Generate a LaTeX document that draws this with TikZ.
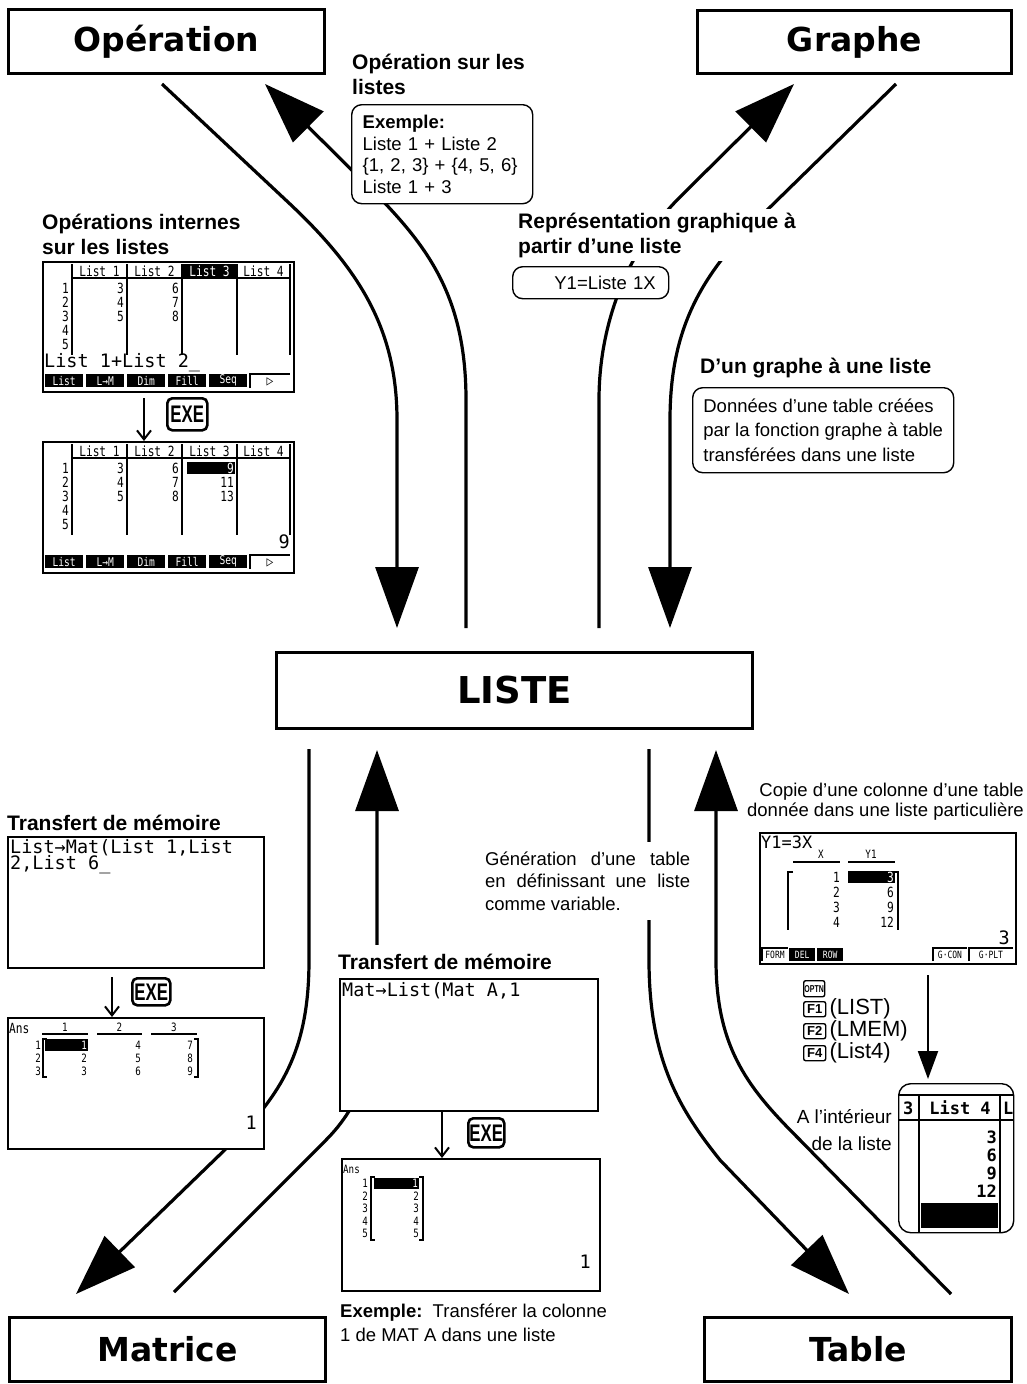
\documentclass[tikz,border=0pt]{standalone}
\usepackage{fontspec}
\setmainfont{Liberation Sans}
\newfontface\heavyfont{DejaVu Sans Bold}
\newfontfamily\lcdfont{DejaVu Sans Mono}
\newfontface\lcdsmall{DejaVu Sans Mono}[FakeStretch=0.8]
\newfontface\keyfont{Liberation Sans Bold}[FakeStretch=0.7]
\usetikzlibrary{arrows.meta,positioning}

\tikzset{
  titlebox/.style={draw, line width=3pt, anchor=north west, inner sep=0pt,
    font=\heavyfont\fontsize{33}{36}\selectfont},
  head/.style={font=\bfseries\fontsize{21}{25}\selectfont, align=left, inner sep=0pt, anchor=west},
  body/.style={font=\fontsize{18.5}{21.5}\selectfont, inner sep=0pt},
  notebox/.style={draw, line width=1.4pt, rounded corners=10pt, fill=white, anchor=north west,
    font=\fontsize{18.5}{21.5}\selectfont, align=left},
  screen/.style={draw, line width=2.2pt, fill=white, anchor=north west, inner sep=0pt},
  lcd/.style={font=\lcdfont\fontsize{18.5}{17}\selectfont, inner sep=0pt, anchor=west},
  lcds/.style={font=\lcdsmall\fontsize{14}{14}\selectfont, inner sep=0pt},
  tiny/.style={font=\lcdsmall\fontsize{11.5}{11.5}\selectfont, inner sep=0pt},
  fkey/.style={fill=black, text=white, font=\lcdsmall\fontsize{12}{12}\selectfont, inner sep=0pt,
    minimum width=38pt, minimum height=13pt, anchor=north west},
  grid/.style={line width=1.5pt},
  flow/.style={line width=3.2pt},
  bigtip/.style={-{Triangle[length=61pt,width=43pt]}},
  exekey/.style={draw, line width=2.6pt, rounded corners=5pt, inner sep=0pt, anchor=north west,
    font=\keyfont\fontsize{24}{24}\selectfont},
  fnkey/.style={draw, line width=1.4pt, rounded corners=2pt, inner sep=0pt, anchor=north west,
    font=\bfseries\fontsize{13}{13}\selectfont, minimum width=22pt, minimum height=15pt},
  pressarrow/.style={line width=2pt, -{Straight Barb[length=9pt,width=14pt]}}
}

\begin{document}
\begin{tikzpicture}[x=1pt, y=-1pt]
  \useasboundingbox (0,0) rectangle (1026,1384);

  % Boxes
  \node[titlebox, minimum width=316pt, minimum height=64pt] (operation) at (7,8) {Opération};
  \node[titlebox, minimum width=314pt, minimum height=63pt] (graphe) at (696,9) {Graphe};
  \node[titlebox, minimum width=476pt, minimum height=76pt, font=\heavyfont\fontsize{37}{40}\selectfont] (liste) at (275,651) {LISTE};
  \node[titlebox, minimum width=316pt, minimum height=64pt] (matrice) at (8,1316) {Matrice};
  \node[titlebox, minimum width=307pt, minimum height=64pt] (table) at (703,1316) {Table};

  % Ends of the flows
  \coordinate (opOut) at (162,84);
  \coordinate (opIn) at (265,84);
  \coordinate (grIn) at (794,84);
  \coordinate (grOut) at (896,84);
  \coordinate (listeInA) at (397,628);
  \coordinate (listeOutA) at (466,628);
  \coordinate (listeOutB) at (599,628);
  \coordinate (listeInB) at (670,628);
  \coordinate (listeOutC) at (309,749);
  \coordinate (listeInC) at (377,750);
  \coordinate (listeOutD) at (649,749);
  \coordinate (listeInD) at (716,750);
  \coordinate (maIn) at (76,1294);
  \coordinate (maOut) at (174,1292);
  \coordinate (tbIn) at (849,1294);
  \coordinate (tbOut) at (951,1294);

  % Arrows
  \draw[flow, bigtip] (opOut) -- (290,204) .. controls (360,270) and (397,330) .. (397,420) -- (listeInA);
  \draw[flow, bigtip] (listeOutA) -- (466,400) .. controls (466,300) and (430,250) .. (380,198) -- (opIn);
  \draw[flow, bigtip] (listeOutB) -- (599,400) .. controls (599,320) and (630,247) .. (680,197) -- (grIn);
  \draw[flow, bigtip] (grOut) -- (760,217) .. controls (700,276) and (670,330) .. (670,420) -- (listeInB);
  \draw[flow, bigtip] (listeOutC) -- (309,960) .. controls (309,1045) and (285,1090) .. (235,1140) -- (maIn);
  \draw[flow, bigtip] (maOut) -- (326,1140) .. controls (360,1106) and (377,1060) .. (377,1000) -- (listeInC);
  \draw[flow, bigtip] (listeOutD) -- (649,960) .. controls (649,1060) and (680,1110) .. (720,1160) -- (tbIn);
  \draw[flow, bigtip] (tbOut) -- (800,1140) .. controls (750,1090) and (716,1050) .. (716,960) -- (listeInD);

  % Labels
  \node[head] (opHead) at (352,74) {Opération sur les\\listes};
  \node[notebox, text width=159pt, inner xsep=11pt, minimum height=99pt] (opNote) at (351,104)
    {\textbf{Exemple:}\\Liste 1 + Liste 2\\\{1, 2, 3\} + \{4, 5, 6\}\\Liste 1 + 3};
  \node[head] (intHead) at (42,234) {Opérations internes\\sur les listes};
  \node[head, fill=white, inner ysep=4pt, inner xsep=2pt] (grHead) at (516,235) {Représentation graphique à\\partir d’une liste};
  \node[notebox, text width=130pt, align=right, inner xsep=13pt, minimum height=32pt] (grNote) at (512,266) {Y1=Liste 1X};
  \node[head] (grListHead) at (700,368) {D’un graphe à une liste};
  \node[notebox, inner xsep=9pt, minimum width=261pt, minimum height=85pt, font=\fontsize{18.5}{24.5}\selectfont] (grListNote) at (692,387)
    {Données d’une table créées\\par la fonction graphe à table\\transférées dans une liste};
  \node[body, align=right, anchor=east, font=\fontsize{18.5}{20}\selectfont] (copyLab) at (1024,802)
    {Copie d’une colonne d’une table\\donnée dans une liste particulière};
  \node[body, fill=white, inner xsep=2pt, inner ysep=10pt, anchor=west, align=left, font=\fontsize{18.5}{22.5}\selectfont] (genLab) at (483,881)
    {\makebox[205pt][s]{Génération d’une table}\\\makebox[205pt][s]{en définissant une liste}\\comme variable.};
  \node[head] (tmHeadA) at (7,823) {Transfert de mémoire};
  \node[head, fill=white, inner ysep=9pt] (tmHeadB) at (338,962) {Transfert de mémoire};
  \node[body, anchor=west, align=left, font=\fontsize{18.5}{24}\selectfont] (exLab) at (340,1323)
    {\textbf{Exemple:}\ \ Transférer la colonne\\1 de MAT A dans une liste};
  \node[body, anchor=east, align=right, font=\fontsize{19}{27}\selectfont] (insideLab) at (892,1130) {A l’intérieur\\de la liste};

  % Screens
  \node[screen, minimum width=251pt, minimum height=130pt] (scrA) at (42,261) {};
  \node[screen, minimum width=251pt, minimum height=131pt] (scrB) at (42,441) {};
  \node[screen, minimum width=256pt, minimum height=131pt] (scrC) at (7,836) {};
  \node[screen, minimum width=256pt, minimum height=131pt] (scrD) at (7,1017) {};
  \node[screen, minimum width=258pt, minimum height=132pt] (scrE) at (339,978) {};
  \node[screen, minimum width=258pt, minimum height=132pt] (scrF) at (341,1158) {};
  \node[screen, minimum width=256pt, minimum height=131pt] (scrG) at (759,832) {};

  % list editor before EXE
  \begin{scope}[shift={(42,261)}]
    \foreach \cx in {30,85,140,195,248} \draw[grid] (\cx,3) -- (\cx,94);
    \draw[grid] (30,17) -- (248,17);
    \fill (140,3) rectangle (195,16);
    \foreach \n/\cx in {1/57.5,2/112.5,4/221.5} \node[lcds] at (\cx,10) {List \n};
    \node[lcds, text=white] at (167.5,10) {List 3};
    \foreach \r/\ry in {1/27,2/41,3/55,4/69,5/83} \node[lcds, anchor=east] at (27,\ry) {\r};
    \foreach \v/\ry in {3/27,4/41,5/55} \node[lcds, anchor=east] at (82,\ry) {\v};
    \foreach \v/\ry in {6/27,7/41,8/55} \node[lcds, anchor=east] at (137,\ry) {\v};
    \node[lcd] at (2,102) {List 1+List 2\_};
    \foreach \k [count=\i from 0] in {List,L→M,Dim,Fill,Seq} \node[fkey] at (3+41*\i,113) {\k};
    \draw[line width=1.2pt] (208,127) -- (208,113) -- (248,113);
    \node[lcds] at (228,121) {▷};
  \end{scope}

  % list editor after EXE
  \begin{scope}[shift={(42,441)}]
    \foreach \cx in {30,85,140,195,248} \draw[grid] (\cx,3) -- (\cx,94);
    \draw[grid] (30,17) -- (248,17);
    \foreach \n/\cx in {1/57.5,2/112.5,3/167.5,4/221.5} \node[lcds] at (\cx,10) {List \n};
    \foreach \r/\ry in {1/27,2/41,3/55,4/69,5/83} \node[lcds, anchor=east] at (27,\ry) {\r};
    \foreach \v/\ry in {3/27,4/41,5/55} \node[lcds, anchor=east] at (82,\ry) {\v};
    \foreach \v/\ry in {6/27,7/41,8/55} \node[lcds, anchor=east] at (137,\ry) {\v};
    \fill (145,21) rectangle (193,33);
    \node[lcds, text=white, anchor=east] at (192,27) {9};
    \foreach \v/\ry in {11/41,13/55} \node[lcds, anchor=east] at (192,\ry) {\v};
    \node[lcd, anchor=east] at (248,101) {9};
    \foreach \k [count=\i from 0] in {List,L→M,Dim,Fill,Seq} \node[fkey] at (3+41*\i,114) {\k};
    \draw[line width=1.2pt] (208,128) -- (208,114) -- (248,114);
    \node[lcds] at (228,122) {▷};
  \end{scope}

  % List->Mat
  \begin{scope}[shift={(7,836)}]
    \node[lcd] at (3,12) {List→Mat(List 1,List};
    \node[lcd] at (3,29) {2,List 6\_};
  \end{scope}

  % matrix answer
  \begin{scope}[shift={(7,1017)}]
    \node[lcds, anchor=west] at (2,11) {Ans};
    \foreach \a/\b/\lab in {35/81/1,90/135/2,144/190/3} {
      \draw[line width=1.3pt] (\a,17) -- (\b,17);
      \node[tiny] at ({(\a+\b)/2},10) {\lab};
    }
    \foreach \r/\ry in {1/28,2/41,3/54} \node[tiny, anchor=east] at (34,\ry) {\r};
    \draw[line width=1.3pt] (40,22) -- (36,22) -- (36,60) -- (40,60);
    \draw[line width=1.3pt] (187,22) -- (191,22) -- (191,60) -- (187,60);
    \fill (38,22) rectangle (81,34);
    \node[tiny, text=white, anchor=east] at (80,28) {1};
    \foreach \v/\ry in {2/41,3/54} \node[tiny, anchor=east] at (80,\ry) {\v};
    \foreach \v/\ry in {4/28,5/41,6/54} \node[tiny, anchor=east] at (134,\ry) {\v};
    \foreach \v/\ry in {7/28,8/41,9/54} \node[tiny, anchor=east] at (186,\ry) {\v};
    \node[lcd, anchor=east] at (250,106) {1};
  \end{scope}

  % Mat->List
  \begin{scope}[shift={(339,978)}]
    \node[lcd] at (3,13) {Mat→List(Mat A,1};
  \end{scope}

  % column answer
  \begin{scope}[shift={(341,1158)}]
    \node[tiny, anchor=west] at (2,11) {Ans};
    \foreach \r in {1,...,5} \node[tiny, anchor=east] at (27,{13+12.5*\r}) {\r};
    \draw[line width=1.3pt] (34,19) -- (30,19) -- (30,82) -- (34,82);
    \draw[line width=1.3pt] (78,19) -- (82,19) -- (82,82) -- (78,82);
    \fill (33,20) rectangle (78,31);
    \node[tiny, text=white, anchor=east] at (77,25.5) {1};
    \foreach \r in {2,...,5} \node[tiny, anchor=east] at (78,{13+12.5*\r}) {\r};
    \node[lcd, anchor=east] at (250,104) {1};
  \end{scope}

  % table screen
  \begin{scope}[shift={(759,832)}]
    \node[lcd, font=\lcdfont\fontsize{17}{17}\selectfont] at (2,10) {Y1=3X};
    \node[tiny] at (62,22) {X};
    \node[tiny] at (112,22) {Y1};
    \draw[line width=1.3pt] (34,30) -- (81,30);
    \draw[line width=1.3pt] (89,30) -- (136,30);
    \draw[line width=1.3pt] (34,40) -- (29,40) -- (29,98);
    \draw[line width=1.3pt] (134,40) -- (139,40) -- (139,98);
    \fill (89,39) rectangle (136,51);
    \node[lcds, text=white, anchor=east] at (135,45) {3};
    \foreach \x/\ry in {1/45,2/60,3/75,4/90} \node[lcds, anchor=east] at (81,\ry) {\x};
    \foreach \v/\ry in {6/60,9/75,12/90} \node[lcds, anchor=east] at (135,\ry) {\v};
    \node[lcd, anchor=east] at (251,106) {3};
    \draw[line width=1.1pt] (3,129) -- (3,116) -- (29,116);
    \node[lcds, font=\lcdsmall\fontsize{10}{10}\selectfont] at (16,123) {FORM};
    \node[fkey, minimum width=26pt, font=\lcdsmall\fontsize{10}{10}\selectfont] at (30,116) {DEL};
    \node[fkey, minimum width=26pt, font=\lcdsmall\fontsize{10}{10}\selectfont] at (58,116) {ROW};
    \draw[line width=1.1pt] (174,129) -- (174,116) -- (208,116);
    \node[lcds, font=\lcdsmall\fontsize{10}{10}\selectfont] at (191,123) {G·CON};
    \draw[line width=1.1pt] (210,129) -- (210,116) -- (254,116);
    \node[lcds, font=\lcdsmall\fontsize{10}{10}\selectfont] at (232,123) {G·PLT};
  \end{scope}

  % zoomed list column
  \node[draw, line width=1.4pt, rounded corners=12pt, fill=white, anchor=north west, inner sep=0pt,
    minimum width=115pt, minimum height=149pt] (zoomBox) at (898,1083) {};
  \draw[line width=2.5pt] (898,1095) -- (1013,1095);
  \draw[grid] (898,1120) -- (1013,1120);
  \draw[line width=2pt] (919,1095) -- (919,1232);
  \draw[line width=2pt] (1000,1095) -- (1000,1232);
  \node[lcd, font=\lcdfont\bfseries\fontsize{17}{17}\selectfont] at (903,1108) {3};
  \node[lcd, font=\lcdfont\bfseries\fontsize{17}{17}\selectfont, anchor=center] at (960,1108) {List 4};
  \node[lcd, font=\lcdfont\bfseries\fontsize{17}{17}\selectfont] at (1003,1108) {L};
  \foreach \v/\ry in {3/1137,6/1155,9/1173,12/1191}
    \node[lcd, font=\lcdfont\bfseries\fontsize{17}{17}\selectfont, anchor=east] at (997,\ry) {\v};
  \fill (921,1203) rectangle (998,1228);

  % Keys
  \node[exekey, minimum width=40pt, minimum height=32pt] (exeA) at (166,397) {EXE};
  \node[exekey, minimum width=38pt, minimum height=27pt] (exeB) at (131,977) {EXE};
  \node[exekey, minimum width=36pt, minimum height=29pt] (exeC) at (467,1117) {EXE};
  \node[fnkey, minimum width=21pt, minimum height=16pt, font=\keyfont\fontsize{10}{10}\selectfont] (optn) at (803,980) {OPTN};
  \node[fnkey] (fOne) at (803,1001) {F1};
  \node[fnkey] (fTwo) at (803,1023) {F2};
  \node[fnkey] (fFour) at (803,1045) {F4};
  \node[body, font=\fontsize{22}{22}\selectfont, right=3pt of fOne] (fOneLab) {(LIST)};
  \node[body, font=\fontsize{22}{22}\selectfont, right=3pt of fTwo] (fTwoLab) {(LMEM)};
  \node[body, font=\fontsize{22}{22}\selectfont, right=3pt of fFour] (fFourLab) {(List4)};

  % Key presses
  \coordinate (pressA) at (144,398);
  \coordinate (pressB) at (112,977);
  \coordinate (pressC) at (442,1112);
  \coordinate (pressD) at (928,975);
  \draw[pressarrow] (pressA) -- (pressA |- scrB.north);
  \draw[pressarrow] (pressB) -- (pressB |- scrD.north);
  \draw[pressarrow] (pressC) -- (pressC |- scrF.north);
  \draw[line width=2pt, -{Triangle[length=28pt,width=20pt]}] (pressD) -- ([yshift=4pt]pressD |- zoomBox.north);
\end{tikzpicture}
\end{document}
